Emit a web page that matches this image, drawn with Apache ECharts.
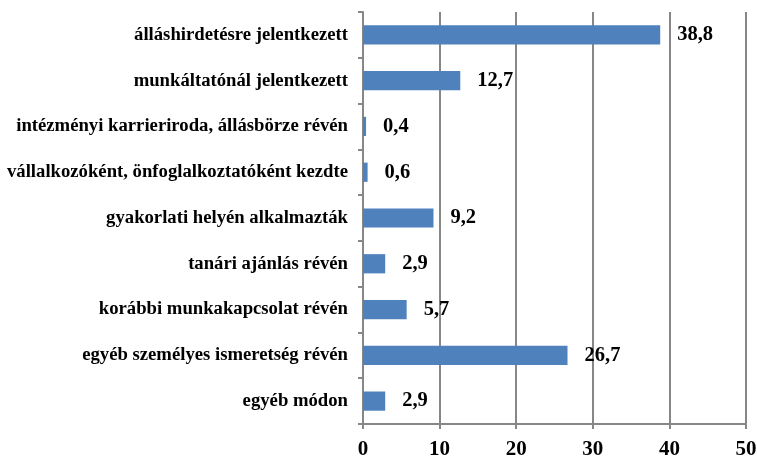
<!DOCTYPE html>
<html>
<head>
<meta charset="utf-8">
<script src="https://cdn.jsdelivr.net/npm/echarts@6/dist/echarts.min.js"></script>
<style>
  html, body { margin: 0; padding: 0; background: #fff; }
  #main { width: 757px; height: 456px; }
</style>
</head>
<body>
<div id="main"></div>
<script>
// kategóriák felülről lefelé
const categories = [
    'álláshirdetésre jelentkezett',
    'munkáltatónál jelentkezett',
    'intézményi karrieriroda, állásbörze révén',
    'vállalkozóként, önfoglalkoztatóként kezdte',
    'gyakorlati helyén alkalmazták',
    'tanári ajánlás révén',
    'korábbi munkakapcsolat révén',
    'egyéb személyes ismeretség révén',
    'egyéb módon'
];
const values = [38.8, 12.7, 0.4, 0.6, 9.2, 2.9, 5.7, 26.7, 2.9];
const xTicks = [0, 10, 20, 30, 40, 50];

const font = "'Liberation Serif', 'Times New Roman', serif";
const gray = '#878787';

const myChart = echarts.init(document.getElementById('main'), null, {renderer: 'canvas'});
const option = {
    animation: false,
    grid: { left: 363, right: 11, top: 12, bottom: 32, containLabel: false, outerBoundsMode: 'none' },
    xAxis: {
        type: 'value',
        min: xTicks[0],
        max: xTicks[xTicks.length - 1],
        interval: 10,
        axisLine: { show: true, lineStyle: { color: gray, width: 2 } },
        axisTick: { show: true, length: 5, lineStyle: { color: gray, width: 2 } },
        splitLine: { show: true, lineStyle: { color: gray, width: 2 } },
        axisLabel: {
            color: '#000', fontFamily: font, fontWeight: 'bold', fontSize: 21, margin: 15
        }
    },
    yAxis: {
        type: 'category',
        inverse: true,
        data: categories,
        axisLine: { show: true, lineStyle: { color: gray, width: 2 } },
        axisTick: { show: true, length: 5, lineStyle: { color: gray, width: 2 } },
        axisLabel: {
            color: '#000', fontFamily: font, fontWeight: 'bold', fontSize: 18.7, margin: 15
        }
    },
    series: [{
        type: 'bar',
        data: values,
        barCategoryGap: '58%',
        itemStyle: { color: '#4F81BD' },
        label: {
            show: true,
            position: 'right',
            distance: 17,
            color: '#000',
            fontFamily: font,
            fontWeight: 'bold',
            fontSize: 20.5,
            formatter: p => String(p.value).replace('.', ',')
        }
    }]
};
myChart.setOption(option);
</script>
</body>
</html>
